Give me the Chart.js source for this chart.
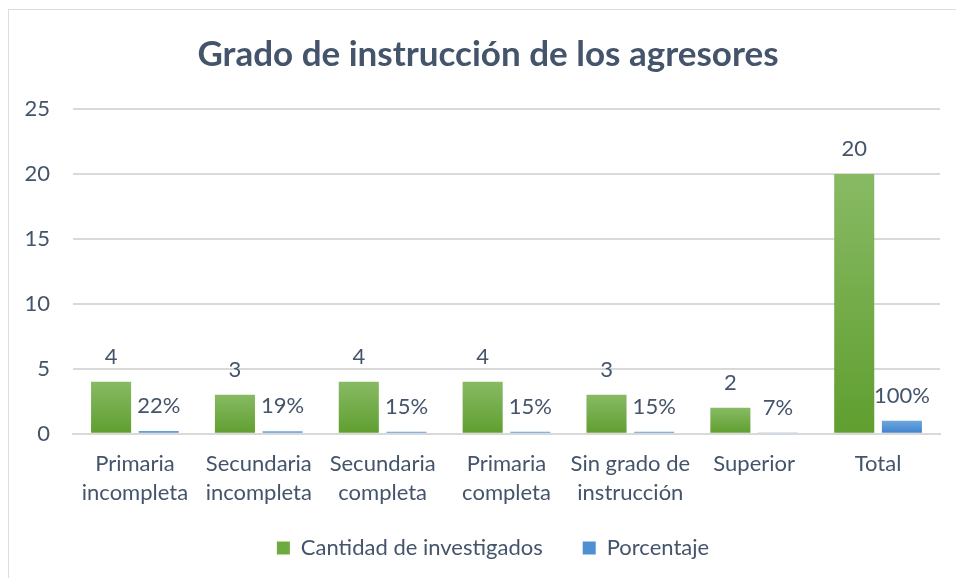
<!DOCTYPE html>
<html>
<head>
<meta charset="utf-8">
<script src="https://cdn.jsdelivr.net/npm/chart.js@4"></script>
<style>
  html, body { margin: 0; padding: 0; background: #fff; }
  #wrap { position: relative; width: 956px; height: 578px; overflow: hidden; }
  #frame { position: absolute; left: 8px; top: 9px; width: 1000px; height: 600px;
           border-left: 1.5px solid #D9DEE5; border-top: 1.5px solid #D9DEE5; }
  canvas { position: absolute; left: 0; top: 0; }
</style>
</head>
<body>
<div id="wrap">
  <div id="frame"></div>
  <canvas id="grafico" width="956" height="595"></canvas>
</div>
<script>
const categorias = [
    ['Primaria', 'incompleta'],
    ['Secundaria', 'incompleta'],
    ['Secundaria', 'completa'],
    ['Primaria', 'completa'],
    ['Sin grado de', 'instrucción'],
    'Superior',
    'Total'
];
const cantidad = [4, 3, 4, 4, 3, 2, 20];
const porcentaje = [0.22, 0.19, 0.15, 0.15, 0.15, 0.07, 1.00];
const ticksY = [0, 5, 10, 15, 20, 25];

const textColor = '#44546A';
const fuente = 'Lato, "Open Sans", sans-serif';

// degradado vertical de cada barra (de su tope hasta el eje)
function degradado(ctx, arriba, abajo) {
    const chart = ctx.chart;
    const area = chart.chartArea;
    const y = chart.scales.y;
    if (!area || !y) return abajo;
    let y0 = area.top, y1 = area.bottom;
    if (ctx.type === 'data') {
        y0 = y.getPixelForValue(ctx.raw);
        y1 = y.getPixelForValue(0);
        if (!isFinite(y0) || y1 - y0 < 1) { y0 = y1 - 1; }
    }
    const g = chart.ctx.createLinearGradient(0, y0, 0, y1);
    g.addColorStop(0, arriba);
    g.addColorStop(1, abajo);
    return g;
}

// etiquetas de valores encima de cada barra
const etiquetas = {
    id: 'etiquetas',
    afterDatasetsDraw(chart) {
        const c = chart.ctx;
        c.save();
        c.font = '22px ' + fuente;
        c.fillStyle = textColor;
        c.textAlign = 'center';
        c.textBaseline = 'middle';
        chart.data.datasets.forEach((ds, i) => {
            const meta = chart.getDatasetMeta(i);
            meta.data.forEach((bar, j) => {
                const v = ds.data[j];
                const txt = i === 1 ? Math.round(v * 100) + '%' : String(v);
                c.fillText(txt, bar.x, bar.y - 25);
            });
        });
        c.restore();
    }
};

// centrar título y leyenda como en el original (Excel los centra en todo el gráfico)
const ajusteCajas = {
    id: 'ajusteCajas',
    afterLayout(chart) {
        chart.titleBlock.left = 36;
        const lg = chart.legend;
        const h = lg.bottom - lg.top;
        lg.left = 46;
        lg.top = 497;
        lg.bottom = lg.top + h;
    }
};

new Chart(document.getElementById('grafico').getContext('2d'), {
    type: 'bar',
    data: {
        labels: categorias,
        datasets: [{
            label: 'Cantidad de investigados',
            data: cantidad,
            backgroundColor: ctx => degradado(ctx, '#88BA64', '#5F9E2F')
        }, {
            label: 'Porcentaje',
            data: porcentaje,
            backgroundColor: ctx => degradado(ctx, '#6EA6E0', '#3D83CB')
        }]
    },
    plugins: [etiquetas, ajusteCajas],
    options: {
        responsive: false,
        animation: false,
        datasets: {
            bar: { categoryPercentage: 0.77, barPercentage: 0.84 }
        },
        layout: { padding: { left: 10, right: 16, top: 0, bottom: 0 } },
        plugins: {
            title: {
                display: true,
                text: 'Grado de instrucción de los agresores',
                color: textColor,
                font: { family: fuente, size: 35, weight: 'bold' },
                padding: { top: 34, bottom: 33 }
            },
            legend: {
                position: 'bottom',
                labels: {
                    color: textColor,
                    font: { family: fuente, size: 22 },
                    boxWidth: 13,
                    boxHeight: 13,
                    padding: 40,
                    generateLabels: chart => {
                        const base = Chart.defaults.plugins.legend.labels.generateLabels(chart);
                        const colores = ['#6DAA3F', '#4F8FD4'];
                        base.forEach((item, i) => { item.fillStyle = colores[i]; item.strokeStyle = colores[i]; item.lineWidth = 0; });
                        return base;
                    }
                }
            },
            tooltip: { enabled: false }
        },
        scales: {
            x: {
                grid: { display: false, drawTicks: false },
                border: { color: '#D9D9D9', width: 2 },
                ticks: {
                    color: textColor,
                    font: { family: fuente, size: 22, lineHeight: 1.3 },
                    padding: 16,
                    maxRotation: 0
                }
            },
            y: {
                min: 0,
                max: 25,
                afterBuildTicks: axis => { axis.ticks = ticksY.map(v => ({ value: v })); },
                afterFit: axis => { axis.width = 63; },
                grid: { color: '#D9D9D9', lineWidth: 2, drawTicks: false },
                border: { display: false },
                ticks: {
                    color: textColor,
                    font: { family: fuente, size: 22 },
                    padding: 23
                }
            }
        }
    }
});
</script>
</body>
</html>
